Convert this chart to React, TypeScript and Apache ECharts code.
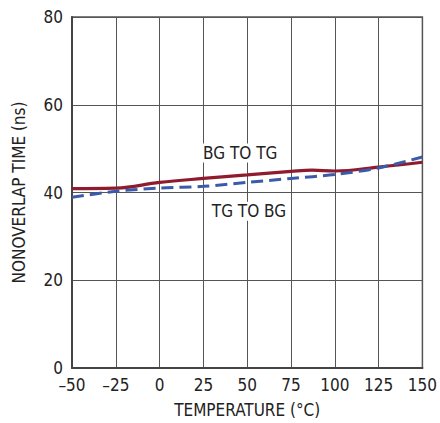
import React, { useEffect, useRef } from "react";
import * as echarts from "echarts";

const temps = [-50, -25, 0, 25, 50, 75, 87, 100, 125, 150];
const bgToTg = [40.9, 41.0, 42.3, 43.2, 44.0, 44.8, 45.1, 44.9, 45.8, 46.9];
const tempsB = [-50, -25, 0, 25, 50, 75, 100, 125, 150];
const tgToBg = [38.9, 40.3, 41.0, 41.4, 42.3, 43.2, 44.1, 45.6, 48.1];

const FONT = "'Liberation Sans Narrow', 'DejaVu Sans Condensed', 'Arial Narrow', sans-serif";

export default function App() {
  const ref = useRef<HTMLDivElement>(null);
  useEffect(() => {
    const chart = echarts.init(ref.current!, undefined, { renderer: "svg" });
    const txt = { fontFamily: FONT, fontSize: 17, color: "#222" };
    chart.setOption({
      animation: false,
      backgroundColor: "#fff",
      grid: { left: 72, right: 16, top: 17, bottom: 54, show: true, borderColor: "#555", borderWidth: 1.5 },
      xAxis: {
        type: "value",
        min: -50,
        max: 150,
        interval: 25,
        name: "TEMPERATURE (°C)",
        nameLocation: "middle",
        nameGap: 33,
        nameTextStyle: { ...txt },
        axisLine: { show: true, onZero: false, lineStyle: { color: "#444", width: 2 } },
        axisTick: { show: false },
        axisLabel: { ...txt, margin: 8, formatter: (v: number) => (v < 0 ? "\u2013" + Math.abs(v) : String(v)) },
        splitLine: { show: true, lineStyle: { color: "#555", width: 1 } },
      },
      yAxis: {
        type: "value",
        min: 0,
        max: 80,
        interval: 20,
        name: "NONOVERLAP TIME (ns)",
        nameLocation: "middle",
        nameGap: 45,
        nameTextStyle: { ...txt },
        axisLine: { show: true, onZero: false, lineStyle: { color: "#444", width: 2 } },
        axisTick: { show: false },
        axisLabel: { ...txt, margin: 9 },
        splitLine: { show: true, lineStyle: { color: "#555", width: 1 } },
      },
      series: [
        {
          type: "line",
          data: temps.map((t, i) => [t, bgToTg[i]]),
          smooth: 0.4,
          symbol: "none",
          lineStyle: { color: "#8e1b2e", width: 3.2 },
          z: 3,
          markPoint: {
            symbol: "rect",
            symbolSize: 0,
            data: [{ coord: [46, 49] }],
            label: {
              show: true,
              formatter: "BG TO TG",
              ...txt,
              backgroundColor: "#fff",
              padding: [1, 2],
            },
          },
        },
        {
          type: "line",
          data: tempsB.map((t, i) => [t, tgToBg[i]]),
          smooth: 0.3,
          symbol: "none",
          lineStyle: { color: "#3b5ba9", width: 3, type: [12, 6] },
          z: 4,
          markPoint: {
            symbol: "rect",
            symbolSize: 0,
            data: [{ coord: [51, 35.7] }],
            label: {
              show: true,
              formatter: "TG TO BG",
              ...txt,
              backgroundColor: "#fff",
              padding: [1, 2],
            },
          },
        },
      ],
    });
    return () => chart.dispose();
  }, []);
  return <div ref={ref} style={{ width: 440, height: 423, position: "absolute", left: 0, top: 0 }} />;
}
